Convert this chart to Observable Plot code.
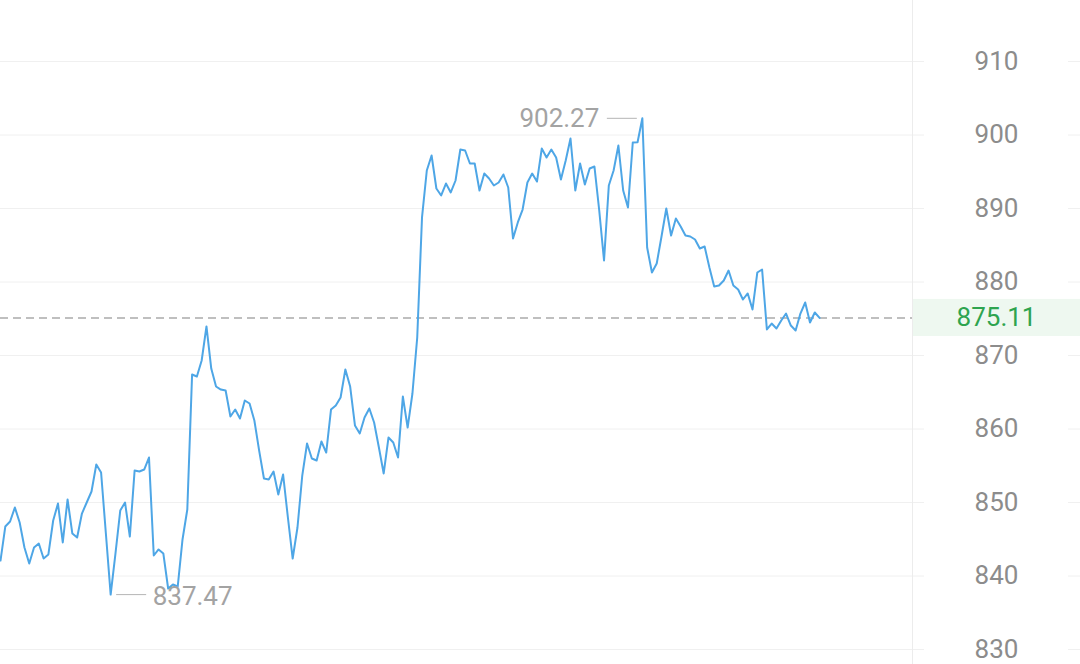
<!DOCTYPE html>
<html><head><meta charset="utf-8">
<script src="https://cdn.jsdelivr.net/npm/d3@7"></script>
<script src="https://cdn.jsdelivr.net/npm/@observablehq/plot@0.6"></script>
<style>body{margin:0;background:#fff;overflow:hidden}</style>
</head><body><div id="chart"></div>
<script>
const prices = [
842.11, 846.73, 847.41, 849.32, 847.28, 843.88, 841.70, 843.88, 844.42, 842.38,
842.93, 847.55, 849.86, 844.56, 850.41, 845.78, 845.24, 848.50, 850.00, 851.50,
855.17, 854.08, 845.78, 837.47, 843.06, 848.91, 850.00, 845.37, 854.35, 854.22,
854.49, 856.12, 842.79, 843.61, 843.06, 838.30, 838.84, 838.57, 844.97, 849.05,
867.41, 867.14, 869.32, 873.95, 868.23, 865.78, 865.37, 865.24, 861.70, 862.65,
861.43, 863.88, 863.47, 861.16, 857.07, 853.27, 853.13, 854.22, 851.09, 853.81,
847.96, 842.38, 846.60, 853.67, 858.03, 855.99, 855.71, 858.30, 856.80, 862.65,
863.20, 864.29, 868.10, 865.78, 860.48, 859.39, 861.56, 862.79, 860.88, 857.48,
853.95, 858.84, 858.16, 856.12, 864.42, 860.20, 864.83, 872.45, 888.78, 895.17,
897.21, 892.72, 891.77, 893.40, 892.18, 893.81, 898.03, 897.89, 896.12, 896.12,
892.45, 894.76, 894.08, 893.13, 893.54, 894.63, 892.86, 885.92, 888.10, 889.86,
893.54, 894.76, 893.67, 898.16, 896.94, 898.03, 896.94, 893.95, 896.53, 899.52,
892.45, 896.12, 893.27, 895.44, 895.71, 889.73, 882.93, 893.13, 895.17, 898.57,
892.45, 890.14, 898.98, 899.01, 902.27, 884.69, 881.29, 882.52, 886.19, 890.00,
886.33, 888.64, 887.55, 886.33, 886.19, 885.78, 884.56, 884.83, 881.97, 879.39,
879.52, 880.20, 881.56, 879.52, 878.98, 877.62, 878.44, 876.26, 881.29, 881.70,
873.54, 874.35, 873.67, 874.76, 875.71, 874.08, 873.40, 875.71, 877.21, 874.49,
875.85, 875.11
];
const yTicks = [830, 840, 850, 860, 870, 880, 890, 900, 910];

const series = prices.map((v, i) => ({i, v}));
const lastPrice = prices[prices.length - 1];
const iMin = d3.minIndex(prices);
const iMax = d3.maxIndex(prices);
const X_END = 190.4;          // right edge of the plotting area (in sample units)
const PX = 912 / X_END;       // pixels per sample
const FONT = "Roboto, 'Noto Sans', sans-serif";

const chart = Plot.plot({
  width: 1080, height: 664,
  marginLeft: 0, marginRight: 168, marginTop: 0, marginBottom: 0,
  x: {domain: [0, X_END], axis: null},
  y: {domain: [827.96, 918.3], axis: null},
  style: {fontFamily: FONT, background: "#fff"},
  marks: [
    Plot.ruleY(yTicks, {x1: 0, x2: 924 / PX, stroke: "#f0f0f0", strokeWidth: 1}),
    Plot.ruleY(yTicks, {x1: 1068 / PX, x2: 1080 / PX, stroke: "#f0f0f0", strokeWidth: 1}),
    Plot.ruleX([X_END], {stroke: "#ececec", strokeWidth: 1}),
    Plot.rect([lastPrice], {x1: X_END + 1 / PX, x2: 1080 / PX, y1: d => d - 2.52, y2: d => d + 2.52, fill: "#eef8f0"}),
    Plot.ruleY([lastPrice], {x1: 0, x2: X_END, stroke: "#aaaaaa", strokeWidth: 1.5, strokeDasharray: "8,5"}),
    Plot.line(series, {x: "i", y: "v", stroke: "#4ea6e6", strokeWidth: 2}),
    Plot.ruleY([prices[iMax]], {x1: iMax - 35 / PX, x2: iMax - 5 / PX, stroke: "#b5b5b5", strokeWidth: 1}),
    Plot.text([iMax], {x: d => d, y: d => prices[d], text: d => prices[d].toFixed(2), dx: -43, textAnchor: "end", fill: "#a3a3a3", fontSize: 26}),
    Plot.ruleY([prices[iMin]], {x1: iMin + 6 / PX, x2: iMin + 36 / PX, stroke: "#b5b5b5", strokeWidth: 1}),
    Plot.text([iMin], {x: d => d, y: d => prices[d], text: d => prices[d].toFixed(2), dx: 42, dy: 2, textAnchor: "start", fill: "#a3a3a3", fontSize: 26}),
    Plot.text(yTicks, {x: X_END, y: d => d, dx: 84, text: d => String(d), fill: "#8c8c8c", fontSize: 26}),
    Plot.text([lastPrice], {x: X_END, y: d => d, dx: 84, text: d => d.toFixed(2), fill: "#2ea44f", fontSize: 26})
  ]
});
document.getElementById("chart").appendChild(chart);
</script>
</body></html>
